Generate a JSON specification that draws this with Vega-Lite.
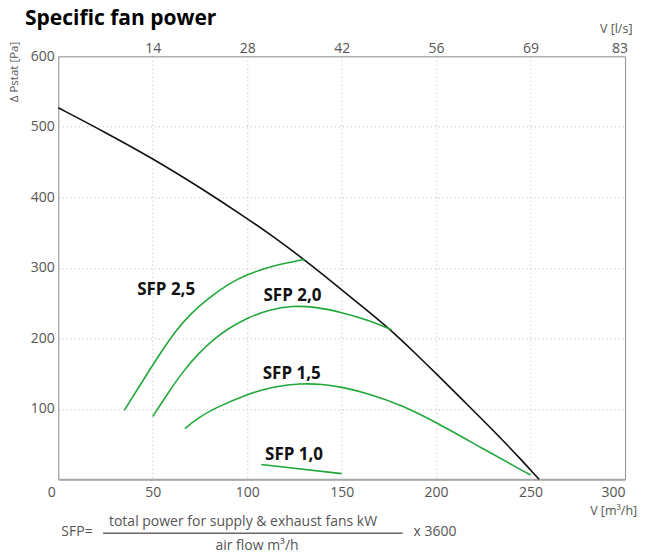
{
  "$schema": "https://vega.github.io/schema/vega-lite/v6.json",
  "width": 566.7,
  "height": 423,
  "autosize": {"type": "none"},
  "padding": {"left": 58.3, "top": 56.3, "right": 45.7, "bottom": 74.7},
  "title": {"text": "Specific fan power", "anchor": "start", "frame": "group", "fontSize": 21, "fontWeight": "bold", "color": "#000000", "font": "Open Sans", "dx": -33.3, "dy": 11, "offset": 4},
  "config": {
    "font": "Open Sans",
    "view": {"stroke": "#8a8a8a", "strokeWidth": 1},
    "axis": {"labelColor": "#555555", "titleColor": "#555555", "labelFontSize": 14, "ticks": false, "domain": false, "titleFontWeight": "normal", "gridColor": "#b8b8b8", "gridDash": [1, 3], "gridWidth": 1}
  },
  "datasets": {
    "curves": [
      {"series": "fan", "flow": 0, "p": 527}, {"series": "fan", "flow": 25, "p": 492}, {"series": "fan", "flow": 50, "p": 455}, {"series": "fan", "flow": 75, "p": 414}, {"series": "fan", "flow": 100, "p": 370}, {"series": "fan", "flow": 115, "p": 342}, {"series": "fan", "flow": 130, "p": 312}, {"series": "fan", "flow": 145, "p": 280}, {"series": "fan", "flow": 160, "p": 247}, {"series": "fan", "flow": 176, "p": 212}, {"series": "fan", "flow": 190, "p": 176}, {"series": "fan", "flow": 200, "p": 150}, {"series": "fan", "flow": 215, "p": 110}, {"series": "fan", "flow": 233, "p": 62}, {"series": "fan", "flow": 245, "p": 28}, {"series": "fan", "flow": 254.5, "p": 0},
      {"series": "SFP 2,5", "flow": 35, "p": 98}, {"series": "SFP 2,5", "flow": 45, "p": 141}, {"series": "SFP 2,5", "flow": 55, "p": 183}, {"series": "SFP 2,5", "flow": 62, "p": 210}, {"series": "SFP 2,5", "flow": 70, "p": 235}, {"series": "SFP 2,5", "flow": 80, "p": 258}, {"series": "SFP 2,5", "flow": 90, "p": 277}, {"series": "SFP 2,5", "flow": 100, "p": 291}, {"series": "SFP 2,5", "flow": 115, "p": 304}, {"series": "SFP 2,5", "flow": 130.5, "p": 312},
      {"series": "SFP 2,0", "flow": 50, "p": 89}, {"series": "SFP 2,0", "flow": 58, "p": 122}, {"series": "SFP 2,0", "flow": 66, "p": 153}, {"series": "SFP 2,0", "flow": 74, "p": 178}, {"series": "SFP 2,0", "flow": 82, "p": 198}, {"series": "SFP 2,0", "flow": 90, "p": 214}, {"series": "SFP 2,0", "flow": 100, "p": 229}, {"series": "SFP 2,0", "flow": 112, "p": 241}, {"series": "SFP 2,0", "flow": 124, "p": 246}, {"series": "SFP 2,0", "flow": 135, "p": 245}, {"series": "SFP 2,0", "flow": 150, "p": 237}, {"series": "SFP 2,0", "flow": 165, "p": 225}, {"series": "SFP 2,0", "flow": 176.4, "p": 212},
      {"series": "SFP 1,5", "flow": 67, "p": 72}, {"series": "SFP 1,5", "flow": 74, "p": 87}, {"series": "SFP 1,5", "flow": 82, "p": 100}, {"series": "SFP 1,5", "flow": 100, "p": 121}, {"series": "SFP 1,5", "flow": 115, "p": 132}, {"series": "SFP 1,5", "flow": 128, "p": 136}, {"series": "SFP 1,5", "flow": 140, "p": 135}, {"series": "SFP 1,5", "flow": 150, "p": 131}, {"series": "SFP 1,5", "flow": 165, "p": 121}, {"series": "SFP 1,5", "flow": 182, "p": 105}, {"series": "SFP 1,5", "flow": 200, "p": 81}, {"series": "SFP 1,5", "flow": 223, "p": 46}, {"series": "SFP 1,5", "flow": 250, "p": 6},
      {"series": "SFP 1,0", "flow": 107.4, "p": 21}, {"series": "SFP 1,0", "flow": 150, "p": 8}
    ],
    "labels": [
      {"label": "SFP 2,5", "flow": 57.1, "p": 269},
      {"label": "SFP 2,0", "flow": 124, "p": 260},
      {"label": "SFP 1,5", "flow": 123.6, "p": 150},
      {"label": "SFP 1,0", "flow": 124.8, "p": 34}
    ],
    "notes": [
      {"text": "SFP=", "flow": 9.9, "p": -74.3},
      {"text": "total power for supply & exhaust fans kW", "flow": 97.8, "p": -61},
      {"text": "air flow m³/h", "flow": 105.2, "p": -94.6},
      {"text": "x 3600", "flow": 199.4, "p": -74.3}
    ],
    "bar": [
      {"flow": 23.7, "flow2": 182.3, "p": -76.6}
    ]
  },
  "layer": [
    {
      "data": {"name": "curves"},
      "mark": {"type": "line", "interpolate": "basis", "strokeWidth": 1.6, "clip": false},
      "encoding": {
        "x": {"field": "flow", "type": "quantitative", "scale": {"domain": [0, 300], "nice": false, "zero": false},
          "axis": {"orient": "bottom", "values": [0, 50, 100, 150, 200, 250, 300], "title": "V [m³/h]", "titleFontSize": 12.5, "titleAlign": "right", "titleBaseline": "middle", "titleX": 578.4, "titleY": 31.4, "labelPadding": 6, "labelOffset": {"condition": {"test": "datum.value == 0", "value": -11}, "value": 0}, "domain": true, "domainColor": "#a8a8a8", "domainWidth": 2, "grid": true}},
        "y": {"field": "p", "type": "quantitative", "scale": {"domain": [0, 600], "nice": false},
          "axis": {"values": [100, 200, 300, 400, 500, 600], "title": "Δ Pstat [Pa]", "titleFontSize": 11.5, "titleAlign": "right", "titleBaseline": "middle", "titleAngle": -90, "titleX": -44, "titleY": -15, "labelPadding": 4, "grid": true}},
        "color": {"field": "series", "type": "nominal", "legend": null, "scale": {"domain": ["fan", "SFP 2,5", "SFP 2,0", "SFP 1,5", "SFP 1,0"], "range": ["#111111", "#22a83a", "#22a83a", "#22a83a", "#22a83a"]}},
        "detail": {"field": "series"}
      }
    },
    {
      "data": {"name": "labels"},
      "mark": {"type": "text", "fontSize": 17, "fontWeight": "bold", "color": "#111111", "align": "center", "baseline": "middle"},
      "encoding": {
        "x": {"field": "flow", "type": "quantitative",
          "axis": {"orient": "top", "values": [50, 100, 150, 200, 250, 300], "labelExpr": "{'50':'14','100':'28','150':'42','200':'56','250':'69','300':'83'}[datum.value + '']", "title": "V [l/s]", "titleFontSize": 12.5, "titleAlign": "right", "titleBaseline": "middle", "titleX": 573.7, "titleY": -28, "labelPadding": 1, "labelFlush": true, "labelFlushOffset": 2.5, "grid": false}},
        "y": {"field": "p", "type": "quantitative"},
        "text": {"field": "label"}
      }
    },
    {
      "data": {"name": "notes"},
      "mark": {"type": "text", "fontSize": 14, "color": "#555555", "align": "center", "baseline": "middle"},
      "encoding": {
        "x": {"field": "flow", "type": "quantitative", "axis": null},
        "y": {"field": "p", "type": "quantitative"},
        "text": {"field": "text"}
      }
    },
    {
      "data": {"name": "bar"},
      "mark": {"type": "rule", "color": "#666666", "strokeWidth": 1.5},
      "encoding": {
        "x": {"field": "flow", "type": "quantitative", "axis": null},
        "x2": {"field": "flow2"},
        "y": {"field": "p", "type": "quantitative"}
      }
    }
  ],
  "resolve": {"axis": {"x": "independent"}}
}
